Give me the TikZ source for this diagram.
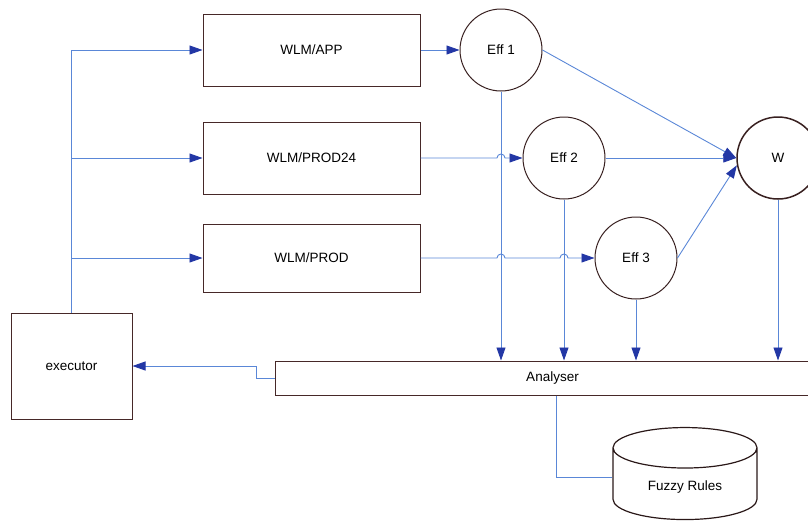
\documentclass[tikz,border=0pt]{standalone}
\usepackage{fontspec}
\setmainfont{Liberation Sans}
\usepackage{tikz}
\usetikzlibrary{arrows.meta,shapes.geometric,calc}
\definecolor{linkblue}{RGB}{90,135,215}
\definecolor{tipblue}{RGB}{35,55,165}
\definecolor{edgecol}{RGB}{70,40,40}
\tikzset{
  wlm/.style={draw=edgecol, line width=1pt, minimum width=217, minimum height=72},
  eff/.style={circle, draw=edgecol!80!black, line width=1pt, minimum size=82, inner sep=0pt},
  link/.style={linkblue, line width=0.9pt},
  tip/.style={-{Triangle[length=13pt,width=9pt,color=tipblue]}}
}

\begin{document}
\begin{tikzpicture}[x=1pt,y=-1pt,every node/.style={font=\fontsize{13.5}{15}\selectfont}]
  \useasboundingbox (0,0) rectangle (808,520);

  \node[wlm] (app) at (311.5,50) {WLM/APP};
  \node[wlm] (prod24) at (311.5,158) {WLM/PROD24};
  \node[wlm,minimum height=68] (prod) at (311.5,258) {WLM/PROD};
  \node[eff] (e1) at (501,50) {Eff 1};
  \node[eff] (e2) at (564,158) {Eff 2};
  \node[eff] (e3) at (636,258) {Eff 3};
  \node[eff,line width=1.5pt] (w) at (778,158) {W};
  \node[wlm,minimum width=121,minimum height=106] (ex) at (71.5,366) {executor};
  \node[wlm,minimum width=555,minimum height=34] (an) at (552.5,378) {Analyser};
  \node[cylinder,shape border rotate=90,draw=edgecol!60!black,line width=1.2pt,
        minimum width=144,minimum height=92,aspect=0.5] (fz) at (685,487) {Fuzzy Rules};

  \draw[link,tip] (ex.north) |- (app.west);
  \draw[link,tip] (ex.north |- prod24.west) -- (prod24.west);
  \draw[link,tip] (ex.north |- prod.west) -- (prod.west);

  \draw[link,tip] (app.east) -- (e1.west);
  \draw[link,tip] (prod24.east) -- ([xshift=-4pt]e1.south |- prod24.east)
    arc[start angle=180,end angle=0,radius=4pt] -- (e2.west);
  \draw[link,tip] (prod.east) -- ([xshift=-4pt]e1.south |- prod.east)
    arc[start angle=180,end angle=0,radius=4pt] -- ([xshift=-4pt]e2.south |- prod.east)
    arc[start angle=180,end angle=0,radius=4pt] -- (e3.west);

  \draw[link,tip] (e1.east) -- (w.west);
  \draw[link,tip] (e2.east) -- (w.west);
  \draw[link,tip] (e3.east) -- (w.190);

  \draw[link,tip] (e1.south) -- (e1.south |- an.north);
  \draw[link,tip] (e2.south) -- (e2.south |- an.north);
  \draw[link,tip] (e3.south) -- (e3.south |- an.north);
  \draw[link,tip] (w.south) -- (w.south |- an.north);

  \draw[link,tip] (an.west) -- ++(-18,0) |- (ex.east);
  \draw[link] ([xshift=4pt]an.south) |- ([yshift=10pt]fz.west);
\end{tikzpicture}
\end{document}
